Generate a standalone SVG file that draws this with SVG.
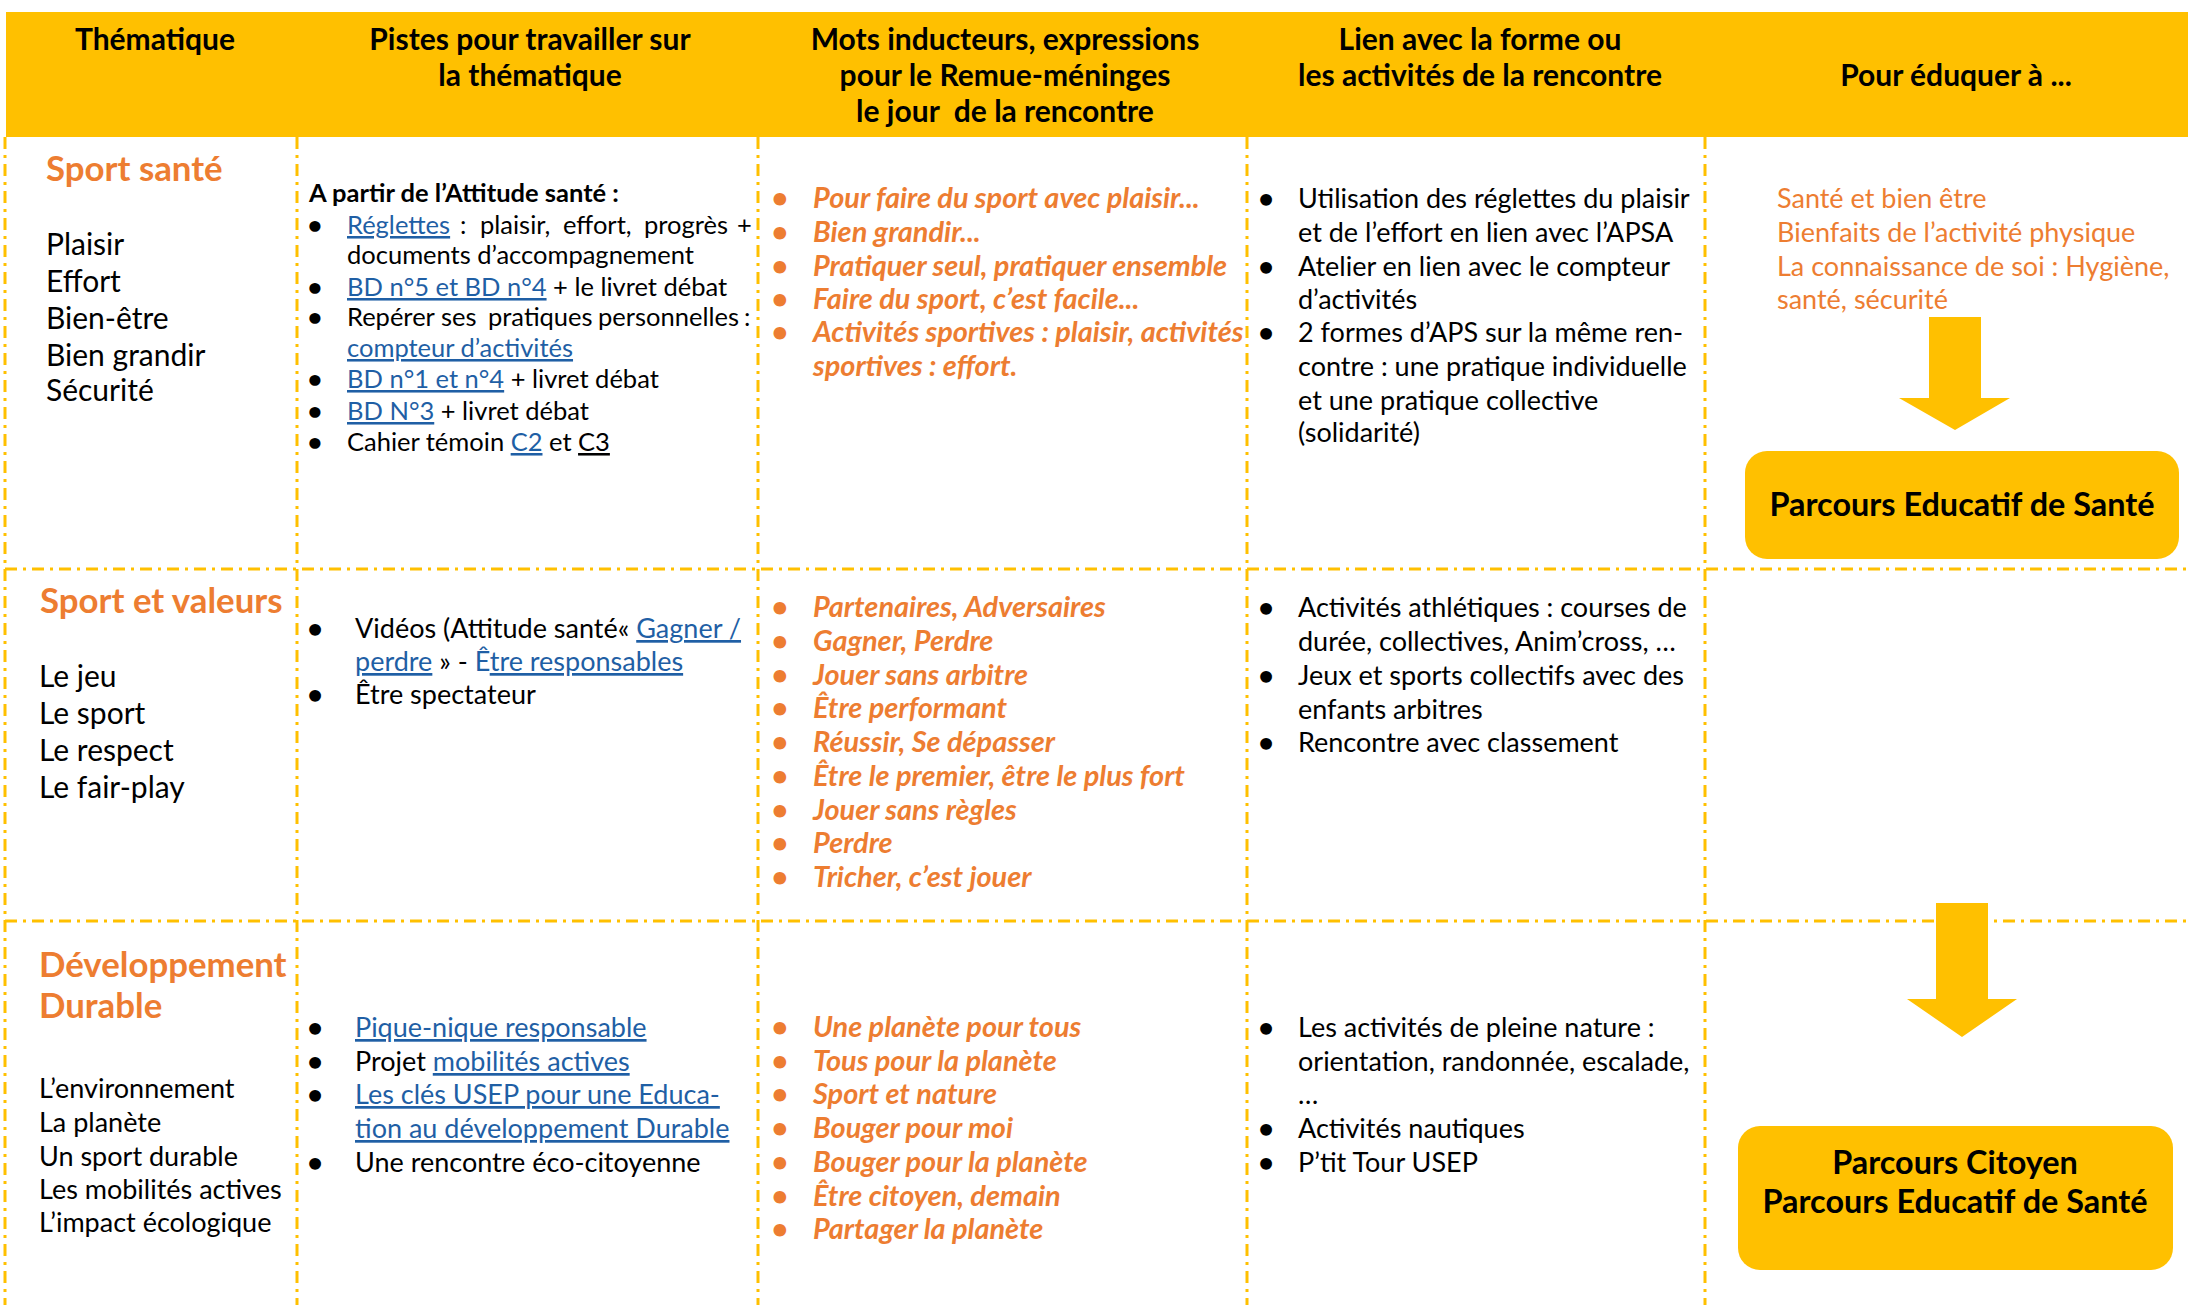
<svg xmlns="http://www.w3.org/2000/svg" width="2188" height="1305" viewBox="0 0 2188 1305">
<style>
text{font-family:Lato,"Liberation Sans",sans-serif;fill:#000}
.hd{font-size:30px;font-weight:bold;text-anchor:middle}
.th{font-size:34.8px;font-weight:bold;fill:#ED7D31}
.k1{font-size:30px}
.k3{font-size:27px}
.s1{font-size:25.5px}
.b{font-size:27px}
.o{font-size:28.9px;font-weight:bold;font-style:italic;fill:#ED7D31}
.or{font-size:27px;fill:#ED7D31}
.bu{text-anchor:middle;font-weight:bold;font-style:normal}
.ln{fill:#1F5FA5;text-decoration:underline}
.ul{text-decoration:underline}
.bl{fill:#1F5FA5}
.bx{font-size:32.4px;font-weight:bold;text-anchor:middle}
.grid{stroke:#FFC000;stroke-width:3;stroke-dasharray:12 6 3 6;fill:none}
.fill{fill:#FFC000}
</style>

<g id="header">
<rect class="fill" x="6" y="12" width="2182" height="125"/>
<text class="hd" x="155" y="50">Thématique</text>
<text class="hd" x="530" y="50">Pistes pour travailler sur</text>
<text class="hd" x="530" y="86">la thématique</text>
<text class="hd" x="1005" y="50">Mots inducteurs, expressions</text>
<text class="hd" x="1005" y="86">pour le Remue-méninges</text>
<text class="hd" x="1005" y="122" style="white-space:pre">le jour  de la rencontre</text>
<text class="hd" x="1480" y="50">Lien avec la forme ou</text>
<text class="hd" x="1480" y="86">les activités de la rencontre</text>
<text class="hd" x="1956" y="86">Pour éduquer à ...</text>
</g>

<g id="grid">
<line class="grid" x1="5" y1="137" x2="5" y2="1305"/>
<line class="grid" x1="297" y1="137" x2="297" y2="1305"/>
<line class="grid" x1="758" y1="137" x2="758" y2="1305"/>
<line class="grid" x1="1247" y1="137" x2="1247" y2="1305"/>
<line class="grid" x1="1705" y1="137" x2="1705" y2="1305"/>
<line class="grid" x1="5" y1="569" x2="2188" y2="569"/>
<line class="grid" x1="5" y1="921" x2="2188" y2="921"/>
</g>

<g id="r1-theme">
<text class="th" x="46" y="181">Sport santé</text>
<text class="k1" x="46" y="255">Plaisir</text>
<text class="k1" x="46" y="292">Effort</text>
<text class="k1" x="46" y="329">Bien-être</text>
<text class="k1" x="46" y="366">Bien grandir</text>
<text class="k1" x="46" y="401">Sécurité</text>
</g>

<g id="r1-pistes">
<text class="s1" x="309" y="202" font-weight="bold">A partir de l’Attitude santé :</text>
<text class="s1 bu" x="315" y="234">•</text>
<text class="s1" y="234"><tspan x="347" class="ln">Réglettes</tspan><tspan x="460">:</tspan><tspan x="480">plaisir,</tspan><tspan x="563">effort,</tspan><tspan x="644">progrès</tspan><tspan x="737">+</tspan></text>
<text class="s1" x="347" y="264">documents d’accompagnement</text>
<text class="s1 bu" x="315" y="296">•</text>
<text class="s1" x="347" y="296"><tspan class="ln">BD n°5 et BD n°4</tspan> + le livret débat</text>
<text class="s1 bu" x="315" y="326">•</text>
<text class="s1" y="326"><tspan x="347">Repérer</tspan><tspan x="441">ses</tspan><tspan x="488">pratiques</tspan><tspan x="598">personnelles</tspan><tspan x="744">:</tspan></text>
<text class="s1" x="347" y="357"><tspan class="ln">compteur d’activités</tspan></text>
<text class="s1 bu" x="315" y="388">•</text>
<text class="s1" x="347" y="388"><tspan class="ln">BD n°1 et n°4</tspan> + livret débat</text>
<text class="s1 bu" x="315" y="420">•</text>
<text class="s1" x="347" y="420"><tspan class="ln">BD N°3</tspan> + livret débat</text>
<text class="s1 bu" x="315" y="451">•</text>
<text class="s1" x="347" y="451">Cahier témoin <tspan class="ln">C2</tspan> et <tspan class="ul">C3</tspan></text>
</g>

<g id="r1-mots">
<text class="o bu" x="780" y="208">•</text><text class="o" x="813" y="208">Pour faire du sport avec plaisir...</text>
<text class="o bu" x="780" y="242">•</text><text class="o" x="813" y="242">Bien grandir...</text>
<text class="o bu" x="780" y="276">•</text><text class="o" x="813" y="276">Pratiquer seul, pratiquer ensemble</text>
<text class="o bu" x="780" y="309">•</text><text class="o" x="813" y="309">Faire du sport, c’est facile...</text>
<text class="o bu" x="780" y="342">•</text><text class="o" x="813" y="342">Activités sportives : plaisir, activités</text>
<text class="o" x="813" y="376">sportives : effort.</text>
</g>

<g id="r1-lien">
<text class="b bu" x="1266" y="208">•</text><text class="b" x="1298" y="208">Utilisation des réglettes du plaisir</text>
<text class="b" x="1298" y="242">et de l’effort en lien avec l’APSA</text>
<text class="b bu" x="1266" y="276">•</text><text class="b" x="1298" y="276">Atelier en lien avec le compteur</text>
<text class="b" x="1298" y="309">d’activités</text>
<text class="b bu" x="1266" y="342">•</text><text class="b" x="1298" y="342">2 formes d’APS sur la même ren-</text>
<text class="b" x="1298" y="376">contre : une pratique individuelle</text>
<text class="b" x="1298" y="410">et une pratique collective</text>
<text class="b" x="1298" y="442">(solidarité)</text>
</g>

<g id="r1-eduquer">
<text class="or" x="1777" y="208">Santé et bien être</text>
<text class="or" x="1777" y="242">Bienfaits de l’activité physique</text>
<text class="or" x="1777" y="276">La connaissance de soi : Hygiène,</text>
<text class="or" x="1777" y="309">santé, sécurité</text>
</g>

<g id="box-sante">
<rect class="fill" x="1745" y="451" width="434" height="108" rx="22"/>
<text class="bx" x="1962" y="516">Parcours Educatif de Santé</text>
</g>

<g id="r2-theme">
<text class="th" x="40" y="613">Sport et valeurs</text>
<text class="k1" x="39" y="687">Le jeu</text>
<text class="k1" x="39" y="724">Le sport</text>
<text class="k1" x="39" y="761">Le respect</text>
<text class="k1" x="39" y="798">Le fair-play</text>
</g>

<g id="r2-pistes">
<text class="b bu" x="315" y="638">•</text><text class="b" x="355" y="638">Vidéos (Attitude santé« <tspan class="ln">Gagner /</tspan></text>
<text class="b" x="355" y="671"><tspan class="ln">perdre</tspan> » - <tspan class="bl">Ê</tspan><tspan class="ln">tre responsables</tspan></text>
<text class="b bu" x="315" y="704">•</text><text class="b" x="355" y="704">Être spectateur</text>
</g>

<g id="r2-mots">
<text class="o bu" x="780" y="617">•</text><text class="o" x="813" y="617">Partenaires, Adversaires</text>
<text class="o bu" x="780" y="651">•</text><text class="o" x="813" y="651">Gagner, Perdre</text>
<text class="o bu" x="780" y="685">•</text><text class="o" x="813" y="685">Jouer sans arbitre</text>
<text class="o bu" x="780" y="718">•</text><text class="o" x="813" y="718">Être performant</text>
<text class="o bu" x="780" y="752">•</text><text class="o" x="813" y="752">Réussir, Se dépasser</text>
<text class="o bu" x="780" y="786">•</text><text class="o" x="813" y="786">Être le premier, être le plus fort</text>
<text class="o bu" x="780" y="820">•</text><text class="o" x="813" y="820">Jouer sans règles</text>
<text class="o bu" x="780" y="853">•</text><text class="o" x="813" y="853">Perdre</text>
<text class="o bu" x="780" y="887">•</text><text class="o" x="813" y="887">Tricher, c’est jouer</text>
</g>

<g id="r2-lien">
<text class="b bu" x="1266" y="617">•</text><text class="b" x="1298" y="617">Activités athlétiques : courses de</text>
<text class="b" x="1298" y="651">durée, collectives, Anim’cross, …</text>
<text class="b bu" x="1266" y="685">•</text><text class="b" x="1298" y="685">Jeux et sports collectifs avec des</text>
<text class="b" x="1298" y="719">enfants arbitres</text>
<text class="b bu" x="1266" y="752">•</text><text class="b" x="1298" y="752">Rencontre avec classement</text>
</g>

<g id="r3-theme">
<text class="th" x="39" y="977">Développement</text>
<text class="th" x="39" y="1018">Durable</text>
<text class="k3" x="39" y="1098">L’environnement</text>
<text class="k3" x="39" y="1132">La planète</text>
<text class="k3" x="39" y="1166">Un sport durable</text>
<text class="k3" x="39" y="1199">Les mobilités actives</text>
<text class="k3" x="39" y="1232">L’impact écologique</text>
</g>

<g id="r3-pistes">
<text class="b bu" x="315" y="1037">•</text><text class="b" x="355" y="1037"><tspan class="ln">Pique-nique responsable</tspan></text>
<text class="b bu" x="315" y="1071">•</text><text class="b" x="355" y="1071">Projet <tspan class="ln">mobilités actives</tspan></text>
<text class="b bu" x="315" y="1104">•</text><text class="b" x="355" y="1104"><tspan class="ln">Les clés USEP pour une Educa-</tspan></text>
<text class="b" x="355" y="1138"><tspan class="ln">tion au développement Durable</tspan></text>
<text class="b bu" x="315" y="1172">•</text><text class="b" x="355" y="1172">Une rencontre éco-citoyenne</text>
</g>

<g id="r3-mots">
<text class="o bu" x="780" y="1037">•</text><text class="o" x="813" y="1037">Une planète pour tous</text>
<text class="o bu" x="780" y="1071">•</text><text class="o" x="813" y="1071">Tous pour la planète</text>
<text class="o bu" x="780" y="1104">•</text><text class="o" x="813" y="1104">Sport et nature</text>
<text class="o bu" x="780" y="1138">•</text><text class="o" x="813" y="1138">Bouger pour moi</text>
<text class="o bu" x="780" y="1172">•</text><text class="o" x="813" y="1172">Bouger pour la planète</text>
<text class="o bu" x="780" y="1206">•</text><text class="o" x="813" y="1206">Être citoyen, demain</text>
<text class="o bu" x="780" y="1239">•</text><text class="o" x="813" y="1239">Partager la planète</text>
</g>

<g id="r3-lien">
<text class="b bu" x="1266" y="1037">•</text><text class="b" x="1298" y="1037">Les activités de pleine nature :</text>
<text class="b" x="1298" y="1071">orientation, randonnée, escalade,</text>
<text class="b" x="1298" y="1104">…</text>
<text class="b bu" x="1266" y="1138">•</text><text class="b" x="1298" y="1138">Activités nautiques</text>
<text class="b bu" x="1266" y="1172">•</text><text class="b" x="1298" y="1172">P’tit Tour USEP</text>
</g>

<g id="connectors">
<polygon class="fill" points="1929,317 1981,317 1981,398 2010,398 1955,430 1899,398 1929,398"/>
<polygon class="fill" points="1936,903 1988,903 1988,999 2017,999 1962,1037 1907,999 1936,999"/>
</g>

<g id="box-citoyen">
<rect class="fill" x="1738" y="1126" width="435" height="144" rx="22"/>
<text class="bx" x="1955" y="1174">Parcours Citoyen</text>
<text class="bx" x="1955" y="1213">Parcours Educatif de Santé</text>
</g>
</svg>
